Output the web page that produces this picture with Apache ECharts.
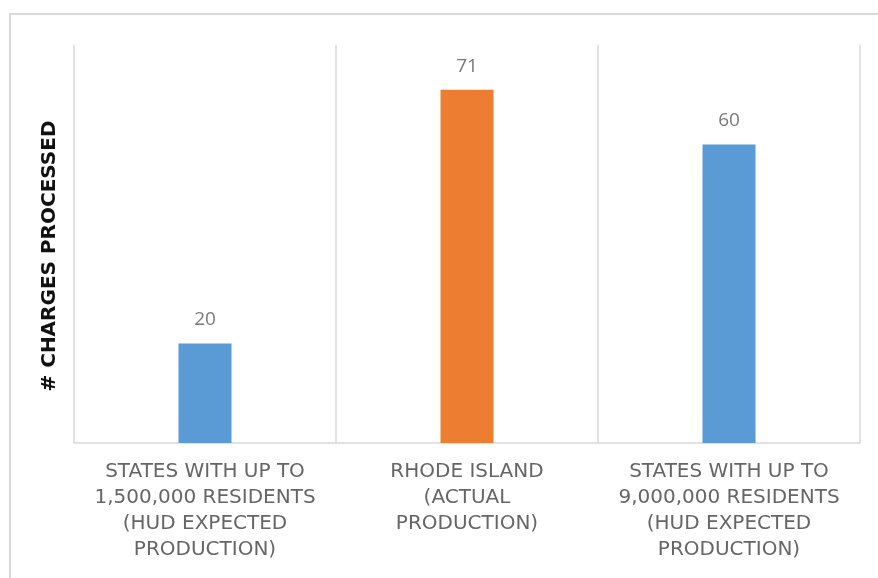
<!DOCTYPE html>
<html>
<head>
<meta charset="utf-8">
<style>
  html, body { margin: 0; padding: 0; background: #ffffff; }
  #chart { width: 878px; height: 578px; }
</style>
<script src="https://cdn.jsdelivr.net/npm/echarts@6/dist/echarts.min.js"></script>
</head>
<body>
<div id="chart"></div>
<script>
// Categories shown along the bottom axis
const categories = [
  'STATES WITH UP TO\n1,500,000 RESIDENTS\n(HUD EXPECTED\nPRODUCTION)',
  'RHODE ISLAND\n(ACTUAL\nPRODUCTION)',
  'STATES WITH UP TO\n9,000,000 RESIDENTS\n(HUD EXPECTED\nPRODUCTION)'
];
// Charges processed per category
const chargesProcessed = [20, 71, 60];
// Fill colour for each bar
const barColors = ['#5b9bd5', '#ed7d31', '#5b9bd5'];
const axisTitle = '# CHARGES PROCESSED';

const chart = echarts.init(document.getElementById('chart'));

chart.setOption({
  animation: false,
  backgroundColor: '#ffffff',
  graphic: [{
    type: 'rect',
    shape: { x: 10, y: 14, width: 900, height: 620 },
    style: { fill: 'none', stroke: '#d9d9d9', lineWidth: 2 },
    silent: true,
    z: -1
  }, {
    // vertical axis title
    type: 'text',
    x: 50,
    y: 256,
    rotation: Math.PI / 2,
    style: {
      text: axisTitle,
      fill: '#111111',
      font: 'bold 20px "DejaVu Sans"',
      align: 'center',
      verticalAlign: 'middle'
    },
    silent: true
  }],
  grid: { left: 74, right: 18, top: 45, bottom: 135 },
  xAxis: {
    type: 'category',
    data: categories,
    boundaryGap: true,
    axisLine: { show: true, lineStyle: { color: '#d9d9d9', width: 1.5 } },
    axisTick: { show: false },
    splitLine: { show: true, lineStyle: { color: '#d9d9d9', width: 1.5 } },
    axisLabel: {
      interval: 0,
      margin: 16,
      color: '#666666',
      fontFamily: 'DejaVu Sans',
      fontSize: 20,
      lineHeight: 26,
      align: 'center'
    }
  },
  yAxis: {
    type: 'value',
    min: 0,
    max: 80,
    axisLine: { show: false },
    axisTick: { show: false },
    axisLabel: { show: false },
    splitLine: { show: false }
  },
  series: [{
    type: 'bar',
    barWidth: 53,
    data: chargesProcessed.map((v, i) => ({ value: v, itemStyle: { color: barColors[i] } })),
    label: {
      show: true,
      position: 'top',
      distance: 14,
      color: '#7a7a7a',
      fontFamily: 'Open Sans',
      fontSize: 19
    }
  }]
});
</script>
</body>
</html>
